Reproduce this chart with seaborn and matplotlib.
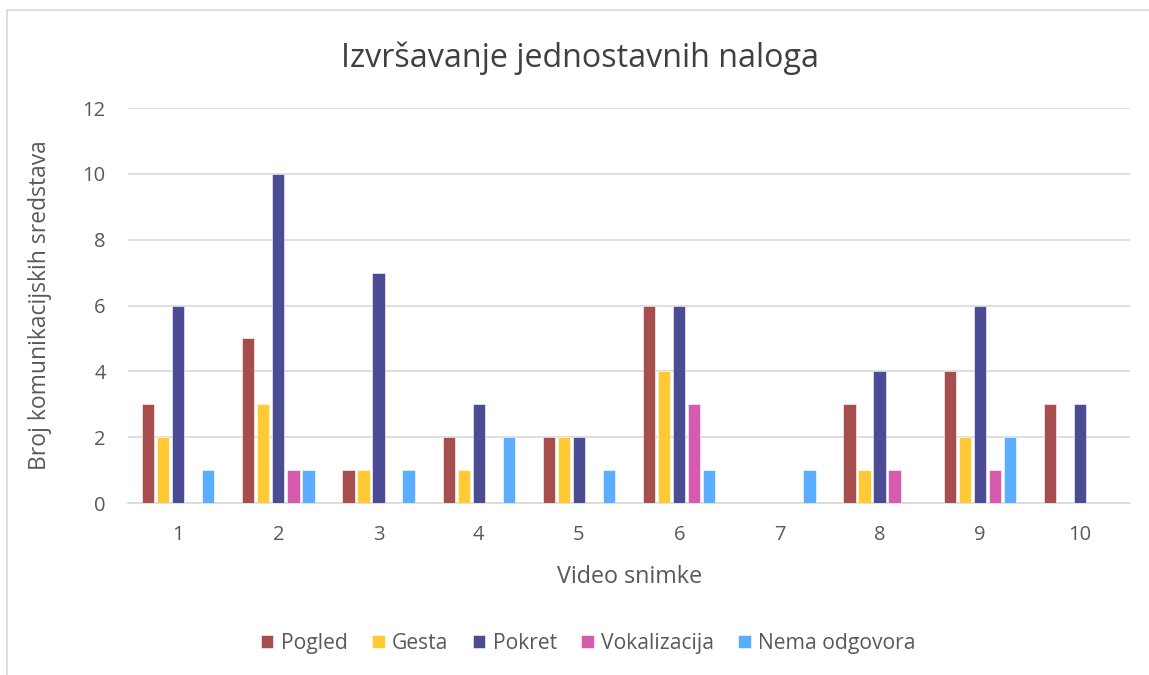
import seaborn as sns
import pandas as pd
import matplotlib.pyplot as plt
from matplotlib.lines import Line2D

snimke = ['1', '2', '3', '4', '5', '6', '7', '8', '9', '10']
pogled = [3, 5, 1, 2, 2, 6, 0, 3, 4, 3]
gesta = [2, 3, 1, 1, 2, 4, 0, 1, 2, 0]
pokret = [6, 10, 7, 3, 2, 6, 0, 4, 6, 3]
vokalizacija = [0, 1, 0, 0, 0, 3, 0, 1, 1, 0]
nema_odgovora = [1, 1, 1, 2, 1, 1, 1, 0, 2, 0]

serije = {
    'Pogled': pogled,
    'Gesta': gesta,
    'Pokret': pokret,
    'Vokalizacija': vokalizacija,
    'Nema odgovora': nema_odgovora,
}
boje = ['#A64D4D', '#FFCA33', '#4B4C93', '#D65AAE', '#5AADFF']

rows = []
for name, vals in serije.items():
    for s, v in zip(snimke, vals):
        rows.append({'Snimka': s, 'Broj': v, 'Serija': name})
df = pd.DataFrame(rows)

sns.set_style('white')
plt.rcParams['font.family'] = ['Open Sans', 'DejaVu Sans']

fig = plt.figure(figsize=(11.49, 6.75), dpi=100)
ax = fig.add_axes([0.1114, 0.2548, 0.8722, 0.5852])

sns.barplot(data=df, x='Snimka', y='Broj', hue='Serija', order=snimke,
            palette=boje, saturation=1, width=0.75, gap=0.18,
            edgecolor='white', linewidth=0.4, ax=ax, zorder=3)

ax.set_ylim(0, 12)
ax.set_yticks(range(0, 13, 2))
ax.set_xlim(-0.5, 9.5)
ax.grid(axis='y', color='#D9D9D9', linewidth=1.2, zorder=0)
ax.set_axisbelow(True)
for side in ['top', 'right', 'left']:
    ax.spines[side].set_visible(False)
ax.spines['bottom'].set_color('#D9D9D9')
ax.spines['bottom'].set_linewidth(1.2)
ax.tick_params(axis='both', length=0, labelsize=14.5, colors='#595959', pad=16)

ax.set_xlabel('Video snimke', fontsize=16.8, color='#595959', labelpad=14)
ax.set_ylabel('Broj komunikacijskih sredstava', fontsize=16.5,
              color='#595959', labelpad=22)
fig.text(0.505, 0.913, 'Izvršavanje jednostavnih naloga', ha='center',
         va='center', fontsize=23.2, color='#404040')

handles, labels = ax.get_legend_handles_labels()
ax.legend(handles, labels, loc='center', bbox_to_anchor=(0.512, 0.047),
          bbox_transform=fig.transFigure, ncol=5, frameon=False,
          fontsize=15.2, handlelength=0.6, handleheight=0.6,
          handletextpad=0.35, columnspacing=1.15, labelcolor='#595959')

# figure border (only top and left visible in the reference crop)
fig.add_artist(Line2D([7 / 1149, 1], [1 - 10 / 675, 1 - 10 / 675],
                      transform=fig.transFigure, color='#D9D9D9', linewidth=1.2))
fig.add_artist(Line2D([7 / 1149, 7 / 1149], [0, 1 - 10 / 675],
                      transform=fig.transFigure, color='#D9D9D9', linewidth=1.2))

fig.savefig('out.png', dpi=100)
